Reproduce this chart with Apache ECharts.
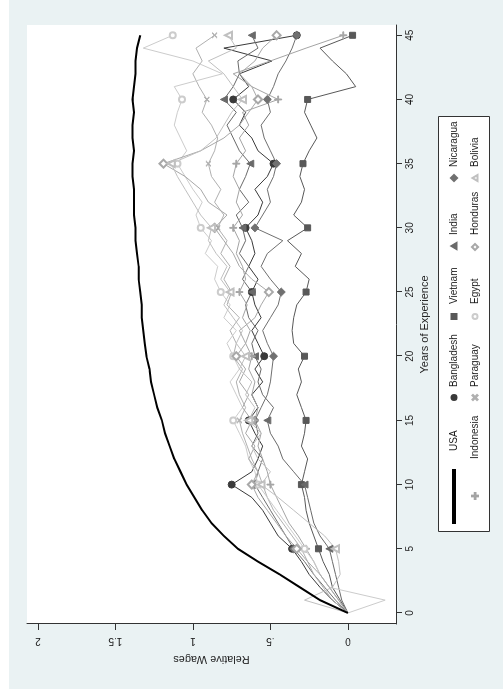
<!DOCTYPE html>
<html>
<head>
<meta charset="utf-8">
<title>Relative Wages by Years of Experience</title>
<script src="https://cdn.jsdelivr.net/npm/echarts@6/dist/echarts.min.js"></script>
<style>
  html, body { margin: 0; padding: 0; background: #fff; }
  /* the whole Stata graph is turned a quarter turn counter-clockwise */
  #wrap { position: absolute; left: 0; top: 0; width: 694px; height: 503px;
          transform-origin: 0 0; transform: translateY(694px) rotate(-90deg); background: #fff; }
  #main { position: absolute; left: 5px; top: 9px; width: 689px; height: 494px; }
</style>
</head>
<body>
<div id="wrap"><div id="main"></div></div>
<script type="text/javascript">

// ---- data (relative wage by year of experience, 0..45) ----
var yearTicks = [0, 5, 10, 15, 20, 25, 30, 35, 40, 45];
var wageTicks = [0, 0.5, 1, 1.5, 2];

var usa        = [0, .18, .31, .44, .58, .71, .80, .88, .94, .99, 1.04, 1.08, 1.12, 1.15, 1.18, 1.20, 1.23, 1.25, 1.27, 1.28, 1.30, 1.31, 1.32, 1.33, 1.33, 1.34, 1.35, 1.35, 1.36, 1.37, 1.37, 1.38, 1.38, 1.38, 1.39, 1.39, 1.38, 1.39, 1.39, 1.38, 1.39, 1.38, 1.37, 1.37, 1.36, 1.34];
var bangladesh = [0, .10, .18, .25, .30, .36, .45, .50, .55, .62, .75, .62, .58, .55, .60, .64, .58, .62, .55, .60, .54, .58, .62, .56, .60, .62, .58, .64, .60, .62, .66, .58, .55, .60, .52, .48, .58, .62, .70, .66, .74, .64, .70, .49, .80, .33];
var vietnam    = [0, .05, .10, .12, .16, .19, .22, .25, .27, .28, .30, .28, .26, .30, .28, .27, .30, .33, .30, .32, .28, .35, .36, .35, .33, .27, .25, .34, .30, .39, .26, .35, .30, .28, .31, .29, .25, .20, .24, .28, .26, -.05, .01, .10, .18, -.03];
var india      = [0, .04, .06, .08, .10, .12, .18, .22, .24, .26, .28, .35, .42, .45, .50, .52, .48, .55, .58, .56, .60, .62, .58, .64, .66, .62, .68, .64, .70, .66, .68, .72, .64, .70, .66, .63, .70, .74, .78, .72, .80, .74, .70, .71, .58, .62];
var nicaragua  = [0, .08, .15, .22, .28, .35, .40, .45, .50, .55, .60, .58, .55, .62, .58, .60, .56, .52, .50, .49, .48, .52, .55, .50, .45, .43, .50, .56, .52, .42, .60, .55, .50, .52, .48, .46, .50, .54, .56, .50, .52, .48, .45, .40, .36, .33];
var indonesia  = [0, .06, .12, .18, .22, .27, .32, .38, .42, .46, .50, .52, .55, .58, .56, .60, .58, .62, .60, .64, .62, .66, .63, .68, .65, .70, .66, .68, .72, .70, .74, .68, .72, .70, .74, .72, .66, .70, .64, .68, .45, .62, .74, .50, .27, .03];
var paraguay   = [0, .10, .16, .22, .26, .30, .36, .42, .48, .52, .55, .58, .62, .65, .68, .70, .66, .70, .72, .68, .74, .72, .76, .70, .78, .75, .80, .76, .82, .78, .84, .80, .86, .82, .88, .90, .86, .84, .88, .94, .91, .96, 1.0, .94, .98, .86];
var egypt      = [0, -.24, .12, .18, .22, .28, .34, .40, .46, .52, .58, .60, .64, .66, .70, .74, .68, .72, .76, .70, .74, .78, .72, .80, .76, .82, .86, .84, .92, .88, .95, .98, .94, 1.0, 1.05, 1.10, 1.04, 1.08, 1.12, 1.10, 1.07, 1.12, .81, 1.0, 1.32, 1.13];
var honduras   = [0, .06, .12, .18, .26, .33, .40, .46, .52, .58, .62, .58, .64, .60, .66, .62, .68, .64, .70, .66, .72, .66, .70, .60, .56, .51, .62, .70, .74, .80, .86, .78, .90, .95, 1.05, 1.19, .95, .80, .70, .64, .58, .62, .70, .60, .55, .46];
var bolivia    = [0, .28, .10, .05, .06, .08, .15, .25, .35, .45, .56, .50, .58, .62, .56, .64, .60, .66, .62, .70, .66, .72, .68, .74, .80, .76, .82, .78, .85, .90, .88, .95, 1.0, 1.05, 1.10, 1.14, .95, .85, .80, .75, .68, .74, .80, .90, .72, .77];

var PLUS = 'path://M3.5,0H4.5V3.5H8V4.5H4.5V8H3.5V4.5H0V3.5H3.5Z';
var CROSS = 'path://M0,0.7L0.7,0L4,3.3L7.3,0L8,0.7L4.7,4L8,7.3L7.3,8L4,4.7L0.7,8L0,7.3L3.3,4Z';

// name, values, line colour, marker, marker size, line width
var countries = [
    ['USA',        usa,        '#000000', 'none',          0, 2],
    ['Bangladesh', bangladesh, '#3a3a3a', 'circle',        7, 1],
    ['Vietnam',    vietnam,    '#585858', 'rect',          6, 1],
    ['India',      india,      '#6a6a6a', 'triangle',      7, 1],
    ['Nicaragua',  nicaragua,  '#707070', 'diamond',       8, 1],
    ['Indonesia',  indonesia,  '#a4a4a4', PLUS,            7, 1],
    ['Paraguay',   paraguay,   '#b0b0b0', CROSS,           5, 1],
    ['Egypt',      egypt,      '#cccccc', 'emptyCircle',   6, 1],
    ['Honduras',   honduras,   '#a8a8a8', 'emptyDiamond',  8, 1],
    ['Bolivia',    bolivia,    '#c0c0c0', 'emptyTriangle', 7, 1]
];

var font = "'Liberation Sans', Arial, sans-serif";
var txt = '#1e1e1e';

var series = countries.map(function (c) {
    var size = c[4];
    return {
        name: c[0],
        type: 'line',
        data: c[1].map(function (v, i) { return [i, v]; }),
        color: c[2],
        lineStyle: { color: c[2], width: c[5] },
        itemStyle: { color: c[2], borderColor: c[2], borderWidth: 1 },
        symbol: c[3],
        showAllSymbol: true,
        // markers only every five years
        symbolSize: function (v, p) { return (p.dataIndex > 0 && p.dataIndex % 5 === 0) ? size : 0; },
        emphasis: { disabled: true },
        z: c[0] === 'USA' ? 3 : 2
    };
});

// legend: one small legend per key so the two rows line up in columns like Stata
// [name, icon left, icon width, icon height, text left, row middle]  (px inside #main)
var keys = [
    ['USA',        165, 53, 2, 237, 446],
    ['Bangladesh', 288, 5, 5, 301, 446],
    ['Vietnam',    369, 5, 5, 384, 446],
    ['India',      439, 6, 5, 453, 446],
    ['Nicaragua',  507, 6, 6, 521, 446],
    ['Indonesia',  189, 6, 6, 229, 467],
    ['Paraguay',   288, 5, 5, 301, 467],
    ['Egypt',      369, 5, 5, 384, 467],
    ['Honduras',   438, 6, 6, 453, 467],
    ['Bolivia',    507, 6, 5, 521, 467]
];
var iconOf = {};
countries.forEach(function (c) { iconOf[c[0]] = c[3] === 'none' ? 'rect' : c[3]; });

var legends = keys.map(function (k) {
    return {
        left: k[1], top: k[5] - 6,
        orient: 'horizontal', padding: 0,
        itemWidth: k[2], itemHeight: k[3],
        selectedMode: false,
        data: [{ name: k[0], icon: iconOf[k[0]] }],
        textStyle: { fontFamily: font, fontSize: 10, color: txt,
                     padding: [0, 0, 0, Math.max(0, k[4] - (k[1] + k[2] + 5))] }
    };
});

var myChart = echarts.init(document.getElementById('main'));
var option = {
    animation: false,
    backgroundColor: '#eaf2f3',
    grid: { left: 65, top: 18, width: 599, height: 369, show: true,
            backgroundColor: '#ffffff', borderWidth: 0 },
    graphic: [{
        type: 'rect', left: 157, top: 429, z: 0,
        shape: { width: 415, height: 51 },
        style: { fill: '#ffffff', stroke: '#333333', lineWidth: 1 }
    }],
    legend: legends,
    xAxis: {
        type: 'value', min: -0.86, max: 45.8,
        name: 'Years of Experience', nameLocation: 'middle', nameGap: 22,
        nameTextStyle: { fontFamily: font, fontSize: 11, color: txt },
        axisLine: { show: true, onZero: false, lineStyle: { color: '#333', width: 1 } },
        axisTick: { show: true, length: 6, customValues: yearTicks, lineStyle: { color: '#333' } },
        axisLabel: { customValues: yearTicks, margin: 9, fontFamily: font, fontSize: 10, color: txt },
        splitLine: { show: false }
    },
    yAxis: {
        type: 'value', min: -0.31, max: 2.07,
        name: 'Relative Wages', nameLocation: 'middle', nameGap: 30,
        nameTextStyle: { fontFamily: font, fontSize: 11, color: txt },
        axisLine: { show: true, onZero: false, lineStyle: { color: '#333', width: 1 } },
        axisTick: { show: true, length: 6, customValues: wageTicks, lineStyle: { color: '#333' } },
        axisLabel: {
            customValues: wageTicks, rotate: 90, margin: 12,
            fontFamily: font, fontSize: 10, color: txt,
            formatter: function (v) { return v === 0 ? '0' : (v < 1 ? String(v).replace('0.', '.') : String(v)); }
        },
        splitLine: { show: false }
    },
    series: series
};
myChart.setOption(option);
</script>
</body>
</html>
